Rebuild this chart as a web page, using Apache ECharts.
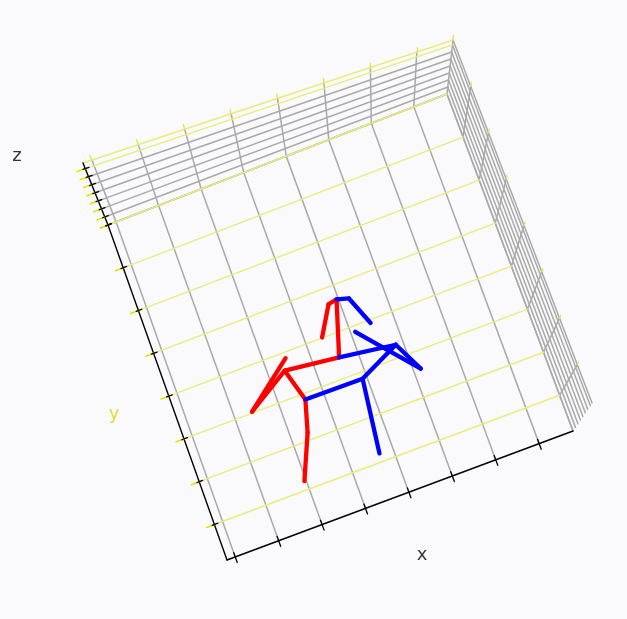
<!DOCTYPE html>
<html>
<head>
<meta charset="utf-8">
<script src="https://cdn.jsdelivr.net/npm/echarts@6/dist/echarts.min.js"></script>
<style>
  html, body { margin: 0; padding: 0; background: #fafafc; }
  #chart { width: 627px; height: 619px; }
</style>
</head>
<body>
<div id="chart"></div>
<script>
// box extent and ticks, in data units
const xRange = [-0.19, 7.78];
const yRange = [-0.83, 7];
const zRange = [0, 7.7];
const xTicks = [0, 1, 2, 3, 4, 5, 6, 7];
const yTicks = [0, 1, 2, 3, 4, 5, 6, 7];
const zTicks = [0, 1, 2, 3, 4, 5, 6, 7];

// skeleton joints
const jointX = [2.58, 2.38, 1.96, 2.37, 3.58, 3.96, 3.76, 3.38, 4.22, 4.48, 3.90, 3.69, 4.83, 5.16, 4.10, 2.48, 1.40];
const jointY = [1.87, 1.17, 0.20, 2.62, 2.47, 3.68, 3.64, 3.01, 3.60, 2.93, 1.85, 0.19, 2.29, 1.61, 2.87, 2.87, 2.03];
const jointZ = [0, 0, 0, 0, 0, 0, 0, 0, 0, 0, 0, 0, 0, 0, 0, 0, 0];
const redBones = [[2, 1], [1, 0], [0, 3], [3, 4], [4, 5], [5, 6], [6, 7], [3, 16], [16, 15]];
const blueBones = [[0, 10], [10, 11], [10, 12], [4, 12], [12, 13], [13, 14], [5, 8], [8, 9]];

// view: where the box corners fall on the page (floor = z min, lid = z max),
// order (xmin,ymin) (xmax,ymin) (xmax,ymax) (xmin,ymax)
const floorPx = [[227, 560], [573, 431], [447, 94], [108, 225]];
const lidPx = [[215, 524], [592, 403], [453, 40], [83, 163]];

function project(x, y, z) {
  const u = (x - xRange[0]) / (xRange[1] - xRange[0]);
  const v = (y - yRange[0]) / (yRange[1] - yRange[0]);
  const w = (z - zRange[0]) / (zRange[1] - zRange[0]);
  const mix = (c) => [0, 1].map(k =>
    (1 - u) * (1 - v) * c[0][k] + u * (1 - v) * c[1][k] + u * v * c[2][k] + (1 - u) * v * c[3][k]);
  const f = mix(floorPx), t = mix(lidPx);
  return [f[0] + (t[0] - f[0]) * w, f[1] + (t[1] - f[1]) * w];
}

function seg(a, b) {
  return { coords: [project(a[0], a[1], a[2]), project(b[0], b[1], b[2])] };
}

const [x0, x1] = xRange, [y0, y1] = yRange, [z0, z1] = zRange;
const gray = [], yellow = [], tips = [], axisBlack = [], tickYellow = [], tickBlack = [];

// floor
xTicks.forEach(x => gray.push(seg([x, y0, z0], [x, y1, z0])));
yTicks.forEach(y => yellow.push(seg([x0, y, z0], [x1, y, z0])));
gray.push(seg([x1, y0, z0], [x1, y1, z0]));
gray.push(seg([x0, y1, z0], [x1, y1, z0]));

// back wall (y max)
zTicks.forEach(z => (z >= 7 ? yellow : gray).push(seg([x0, y1, z], [x1, y1, z])));
yellow.push(seg([x0, y1, z1], [x1, y1, z1]));
xTicks.forEach(x => {
  gray.push(seg([x, y1, z0], [x, y1, z1]));
  tips.push(seg([x, y1, z1], [x, y1, z1 + 0.6]));
});

// side wall (x max)
zTicks.forEach(z => gray.push(seg([x1, y0, z], [x1, y1, z])));
gray.push(seg([x1, y0, z1], [x1, y1, z1]));
yTicks.forEach(y => {
  gray.push(seg([x1, y, z0], [x1, y, z1]));
  tips.push(seg([x1, y, z1], [x1, y, z1 + 0.6]));
});

// axes
axisBlack.push(seg([x0, y0, z0], [x1, y0, z0]));
axisBlack.push(seg([x0, y0, z0], [x0, y1, z0]));
axisBlack.push(seg([x0, y1, z0], [x0, y1, z1]));
xTicks.forEach(x => tickBlack.push(seg([x, y0 - 0.13, z0], [x, y0 + 0.1, z0])));
yTicks.forEach(y => {
  tickYellow.push(seg([x0 - 0.18, y, z0], [x0, y, z0]));
  tickBlack.push(seg([x0 - 0.05, y, z0], [x0 + 0.08, y, z0]));
});
zTicks.forEach(z => {
  tickYellow.push(seg([x0 - 0.18, y1, z], [x0, y1, z]));
  tickBlack.push(seg([x0 - 0.05, y1, z], [x0 + 0.08, y1, z]));
});

function bones(list) {
  return list.map(([a, b]) => seg([jointX[a], jointY[a], jointZ[a]], [jointX[b], jointY[b], jointZ[b]]));
}

function linesSeries(data, color, width, z) {
  return {
    type: 'lines',
    coordinateSystem: 'cartesian2d',
    data: data,
    silent: true,
    z: z,
    lineStyle: { color: color, width: width, opacity: 1, cap: 'round' }
  };
}

const labels = [
  { text: 'x', pos: project(3.8, y0 - 1.4, z0), color: '#000000' },
  { text: 'y', pos: project(x0 - 1.25, 3.06, z0), color: '#d6d600' },
  { text: 'z', pos: project(x0 - 1.22, y1 + 0.56, z1), color: '#000000' }
];

const chart = echarts.init(document.getElementById('chart'));
chart.setOption({
  backgroundColor: '#fafafc',
  animation: false,
  grid: { left: 0, right: 0, top: 0, bottom: 0 },
  xAxis: { type: 'value', min: 0, max: 627, show: false },
  yAxis: { type: 'value', min: 0, max: 619, inverse: true, show: false },
  series: [
    linesSeries(gray, '#a9a9a9', 1.5, 1),
    linesSeries(yellow, '#eaea7c', 1.4, 2),
    linesSeries(tips, '#e6e650', 1.4, 2),
    linesSeries(axisBlack, '#000000', 1.4, 3),
    linesSeries(tickYellow, '#e4e400', 1.6, 3),
    linesSeries(tickBlack, '#000000', 1.3, 4),
    linesSeries(bones(redBones), '#ff0000', 4.3, 5),
    linesSeries(bones(blueBones), '#0000ff', 4.3, 6),
    {
      type: 'scatter',
      symbolSize: 0,
      silent: true,
      z: 7,
      data: labels.map(l => ({
        value: l.pos,
        label: {
          show: true,
          position: 'inside',
          formatter: l.text,
          color: l.color,
          fontSize: 18,
          fontFamily: 'DejaVu Sans'
        }
      }))
    }
  ]
});
</script>
</body>
</html>
